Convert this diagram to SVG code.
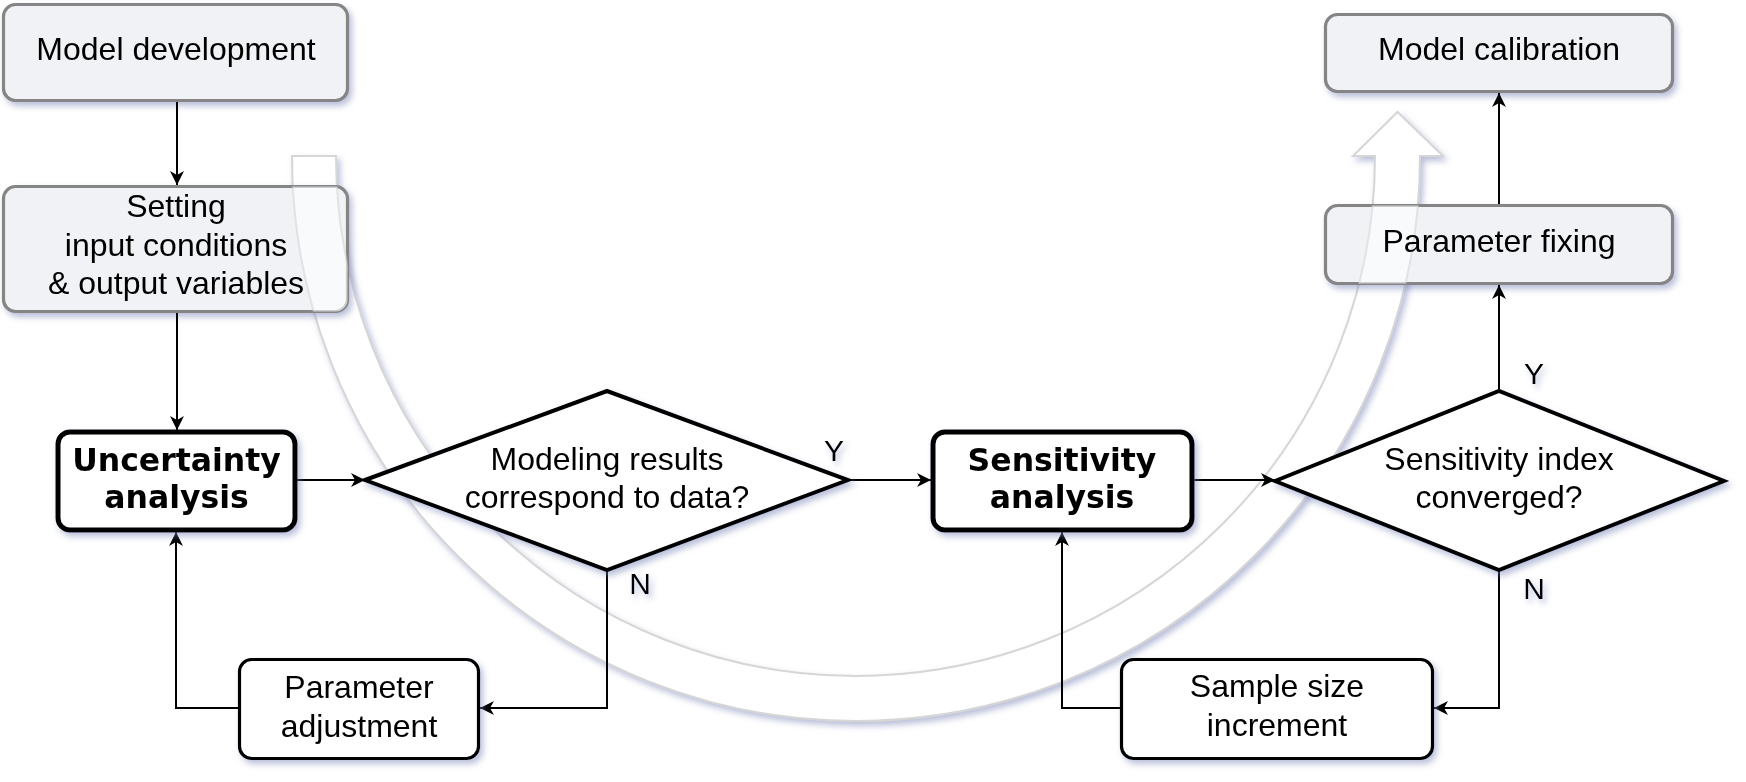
<svg xmlns="http://www.w3.org/2000/svg" xmlns:xlink="http://www.w3.org/1999/xlink" width="1746" height="782" viewBox="0 0 1746 782">
<style>
  .t { font-family: "Liberation Sans", Arial, sans-serif; font-size: 32px; fill: #000; text-anchor: middle; }
  .tb { font-family: "DejaVu Sans", Verdana, sans-serif; font-weight: bold; font-size: 31.5px; fill: #000; text-anchor: middle; }
  .lbl { font-family: "Liberation Sans", Arial, sans-serif; font-size: 30px; fill: #000; text-anchor: middle; }
  .gray { fill: #f1f2f5; stroke: #858585; stroke-width: 3.2; }
  .bold { fill: #fff; stroke: #000; stroke-width: 5; }
  .thin { fill: #fff; stroke: #000; stroke-width: 3.2; }
  .dia { fill: #fff; stroke: #000; stroke-width: 4; stroke-linejoin: miter; }
  .band { fill: #fff; stroke: #d6d6d6; stroke-width: 2; }
  .overlay { fill: #fff; fill-opacity: 0.6; stroke: #d6d6d6; stroke-width: 2; stroke-opacity: 0.6; }
  .edge { fill: none; stroke: #000; stroke-width: 2; }
</style>
<defs>
  <filter id="sh" x="-10%" y="-10%" width="130%" height="140%">
    <feGaussianBlur in="SourceAlpha" stdDeviation="3"/>
    <feOffset dx="3" dy="4" result="b"/>
    <feFlood flood-color="#7580b4" flood-opacity="0.5"/>
    <feComposite in2="b" operator="in"/>
    <feMerge><feMergeNode/><feMergeNode in="SourceGraphic"/></feMerge>
  </filter>
  <marker id="arr" markerUnits="userSpaceOnUse" markerWidth="16" markerHeight="16" refX="14" refY="7" orient="auto">
    <path d="M0 0 L14 7 L0 14 L4 7 Z" fill="#000"/>
  </marker>
  <path id="bandPath" d="M292 156 A564 565 0 0 0 1420 156 L1443 156 L1397.5 112 L1353 156 L1375 156 A519.5 520 0 0 1 336 156 Z"/>
  <clipPath id="clipSet"><rect x="3.5" y="186.5" width="344" height="125" rx="12"/></clipPath>
  <clipPath id="clipFix"><rect x="1325.5" y="205.5" width="347" height="78" rx="12"/></clipPath>
</defs>

<rect width="1746" height="782" fill="#fff"/>

<g id="big-arrow" filter="url(#sh)">
  <use xlink:href="#bandPath" class="band"/>
</g>

<g id="node-model-development" filter="url(#sh)">
  <rect class="gray" x="3.5" y="4.5" width="344" height="96" rx="12"/>
  <text class="t" x="176" y="60">Model development</text>
</g>

<g id="node-setting" filter="url(#sh)">
  <rect class="gray" x="3.5" y="186.5" width="344" height="125" rx="12"/>
  <use xlink:href="#bandPath" class="overlay" clip-path="url(#clipSet)"/>
  <text class="t" x="176" y="217">Setting</text>
  <text class="t" x="176" y="255.5">input conditions</text>
  <text class="t" x="176" y="294">&amp; output variables</text>
</g>

<g id="node-model-calibration" filter="url(#sh)">
  <rect class="gray" x="1325.5" y="14.5" width="347" height="77" rx="12"/>
  <text class="t" x="1499" y="60">Model calibration</text>
</g>

<g id="node-parameter-fixing" filter="url(#sh)">
  <rect class="gray" x="1325.5" y="205.5" width="347" height="78" rx="12"/>
  <use xlink:href="#bandPath" class="overlay" clip-path="url(#clipFix)"/>
  <text class="t" x="1499" y="252">Parameter fixing</text>
</g>

<g id="connectors">
  <path class="edge" d="M177 102 L177 185" marker-end="url(#arr)"/>
  <path class="edge" d="M177 313 L177 430" marker-end="url(#arr)"/>
  <path class="edge" d="M297 480 L365 480" marker-end="url(#arr)"/>
  <path class="edge" d="M848 480 L931 480" marker-end="url(#arr)"/>
  <path class="edge" d="M1194 480 L1275 480" marker-end="url(#arr)"/>
  <path class="edge" d="M1499 391 L1499 285" marker-end="url(#arr)"/>
  <path class="edge" d="M1499 204 L1499 93" marker-end="url(#arr)"/>
  <path class="edge" d="M607 570 L607 708 L480 708" marker-end="url(#arr)"/>
  <path class="edge" d="M238 708 L176 708 L176 532" marker-end="url(#arr)"/>
  <path class="edge" d="M1499 570 L1499 708 L1434 708" marker-end="url(#arr)"/>
  <path class="edge" d="M1120 708 L1062 708 L1062 532" marker-end="url(#arr)"/>
</g>

<g id="node-uncertainty" filter="url(#sh)">
  <rect class="bold" x="58" y="432" width="237" height="98" rx="12"/>
  <text class="tb" x="176.5" y="471">Uncertainty</text>
  <text class="tb" x="176.5" y="508">analysis</text>
</g>

<g id="node-decision-data" filter="url(#sh)">
  <polygon class="dia" points="365,480 607,391 848,480 607,570"/>
  <text class="t" x="607" y="470">Modeling results</text>
  <text class="t" x="607" y="508">correspond to data?</text>
</g>

<g id="node-sensitivity" filter="url(#sh)">
  <rect class="bold" x="933" y="432" width="259" height="98" rx="12"/>
  <text class="tb" x="1062" y="471">Sensitivity</text>
  <text class="tb" x="1062" y="508">analysis</text>
</g>

<g id="node-decision-converged" filter="url(#sh)">
  <polygon class="dia" points="1275,481 1499,391 1724,481 1499,570"/>
  <text class="t" x="1499" y="470">Sensitivity index</text>
  <text class="t" x="1499" y="508">converged?</text>
</g>

<g id="node-parameter-adjustment" filter="url(#sh)">
  <rect class="thin" x="239.5" y="659.5" width="239" height="99" rx="12"/>
  <text class="t" x="359" y="698">Parameter</text>
  <text class="t" x="359" y="737">adjustment</text>
</g>

<g id="node-sample-size" filter="url(#sh)">
  <rect class="thin" x="1121.5" y="659.5" width="311" height="99" rx="12"/>
  <text class="t" x="1277" y="697">Sample size</text>
  <text class="t" x="1277" y="736">increment</text>
</g>

<g id="edge-labels" filter="url(#sh)">
  <text class="lbl" x="834" y="461">Y</text>
  <text class="lbl" x="640" y="594">N</text>
  <text class="lbl" x="1534" y="384">Y</text>
  <text class="lbl" x="1534" y="599">N</text>
</g>
</svg>
